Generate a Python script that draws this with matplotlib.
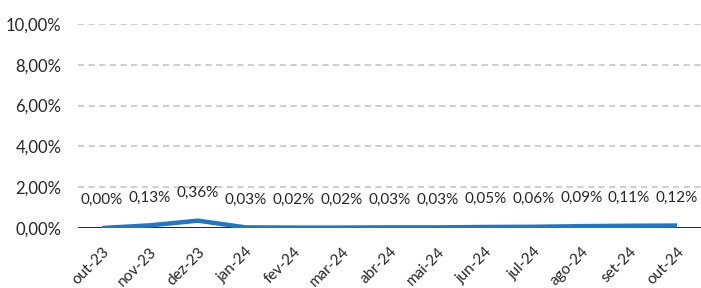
import matplotlib
matplotlib.use("Agg")
import matplotlib.pyplot as plt
from matplotlib.ticker import FuncFormatter

categories = ["out-23", "nov-23", "dez-23", "jan-24", "fev-24", "mar-24", "abr-24",
              "mai-24", "jun-24", "jul-24", "ago-24", "set-24", "out-24"]
values = [0.00, 0.13, 0.36, 0.03, 0.02, 0.02, 0.03, 0.03, 0.05, 0.06, 0.09, 0.11, 0.12]
yticks = [0, 2, 4, 6, 8, 10]

plt.rcParams['font.family'] = ['Lato', 'DejaVu Sans']

fig = plt.figure(figsize=(7.01, 2.88), dpi=100)
ax = fig.add_axes([78/701, 1 - 228/288, (701-78)/701, (228-24)/288])

x = list(range(len(categories)))
ax.plot(x, values, color="#1F77C8", lw=3.2, solid_capstyle="butt", zorder=3)
for xi, v in zip(x, values):
    ax.annotate(f"{v:.2f}%".replace(".", ","), (xi, v), xytext=(0, 15),
                textcoords="offset points", ha="center", va="bottom", fontsize=11, color="#262626")

ax.set_xlim(-0.5, len(categories) - 0.5)
ax.set_ylim(0, 10)
ax.set_yticks(yticks)
ax.yaxis.set_major_formatter(FuncFormatter(lambda v, p: f"{v:.2f}%".replace(".", ",")))
for t in yticks[1:]:
    ax.axhline(t, color="#CFCFCF", lw=1.5, ls=(0, (2.9, 2.2)), zorder=1)
ax.axhline(0, color="black", lw=1.2, zorder=2)
ax.set_xticks(x)
ax.set_xticklabels(categories, rotation=45, ha="right", rotation_mode="anchor", fontsize=11, color="#262626")
ax.tick_params(axis="y", length=0, labelsize=12, pad=12, colors="#262626")
ax.tick_params(axis="x", length=0, pad=12)
for s in ax.spines.values():
    s.set_visible(False)

fig.savefig("out.png", dpi=100)
